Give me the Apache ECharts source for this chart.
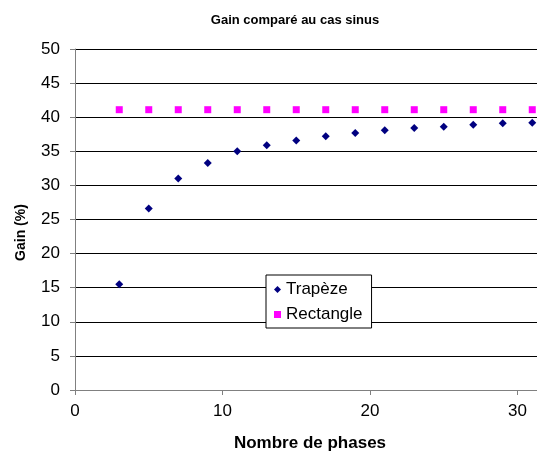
<!DOCTYPE html>
<html><head><meta charset="utf-8">
<script src="https://cdn.jsdelivr.net/npm/echarts@6/dist/echarts.min.js"></script>
<style>html,body{margin:0;padding:0;background:#fff}#c{width:537px;height:454px}</style>
</head><body><div id="c"></div>
<script>
const phases = [3,5,7,9,11,13,15,17,19,21,23,25,27,29,31];
const trapeze = [15.5,26.6,31.0,33.3,35.0,35.9,36.6,37.2,37.7,38.1,38.4,38.6,38.9,39.1,39.2];
const rectangle = [41.1,41.1,41.1,41.1,41.1,41.1,41.1,41.1,41.1,41.1,41.1,41.1,41.1,41.1,41.1];
const titleText = 'Gain comparé au cas sinus';
const xName = 'Nombre de phases';
const yName = 'Gain (%)';

const font = 'Arial, "Liberation Sans", sans-serif';
const chart = echarts.init(document.getElementById('c'));
chart.setOption({
  animation: false,
  backgroundColor: '#fff',
  title: { text: titleText, left: 290, top: 9, textAlign: 'center',
    textStyle: { fontFamily: font, fontSize: 13, fontWeight: 'bold', color: '#000' } },
  grid: { left: 75, top: 49, height: 341, width: 590, outerBoundsMode: 'none', containLabel: false },
  legend: {
    orient: 'vertical', left: 266, top: 275,
    backgroundColor: '#fff', borderColor: '#000', borderWidth: 1,
    padding: [6, 9, 5, 8], itemGap: 8, itemWidth: 7, itemHeight: 7,
    textStyle: { fontFamily: font, fontSize: 17, color: '#000' },
    data: [{ name: 'Trapèze', icon: 'diamond' }, { name: 'Rectangle', icon: 'rect' }]
  },
  xAxis: {
    type: 'value', min: 0, max: 40, interval: 10,
    name: xName, nameLocation: 'middle', nameGap: 45,
    nameTextStyle: { fontFamily: font, fontSize: 17, fontWeight: 'bold', color: '#000', padding: [0, 120, 0, 0] },
    axisLine: { lineStyle: { color: '#808080', width: 1 } },
    axisTick: { show: true, length: 5, inside: false, lineStyle: { color: '#808080' } },
    axisLabel: { fontFamily: font, fontSize: 17, color: '#000', margin: 13 },
    splitLine: { show: false }
  },
  yAxis: {
    type: 'value', min: 0, max: 50, interval: 5,
    name: yName, nameLocation: 'middle', nameGap: 47, nameRotate: 90,
    nameTextStyle: { fontFamily: font, fontSize: 14, fontWeight: 'bold', color: '#000', padding: [0, 26, 0, 0] },
    axisLine: { show: true, lineStyle: { color: '#808080', width: 1 } },
    axisTick: { show: true, length: 5, lineStyle: { color: '#808080' } },
    axisLabel: { fontFamily: font, fontSize: 17, color: '#000', margin: 15 },
    splitLine: { show: true, lineStyle: { color: '#000', width: 1 } }
  },
  series: [
    { name: 'Trapèze', type: 'scatter', symbol: 'diamond', symbolSize: 8,
      itemStyle: { color: '#000080', opacity: 1 }, data: phases.map((x, i) => [x, trapeze[i]]) },
    { name: 'Rectangle', type: 'scatter', symbol: 'rect', symbolSize: 7,
      itemStyle: { color: '#FF00FF', opacity: 1 }, data: phases.map((x, i) => [x, rectangle[i]]) }
  ]
});
</script></body></html>
